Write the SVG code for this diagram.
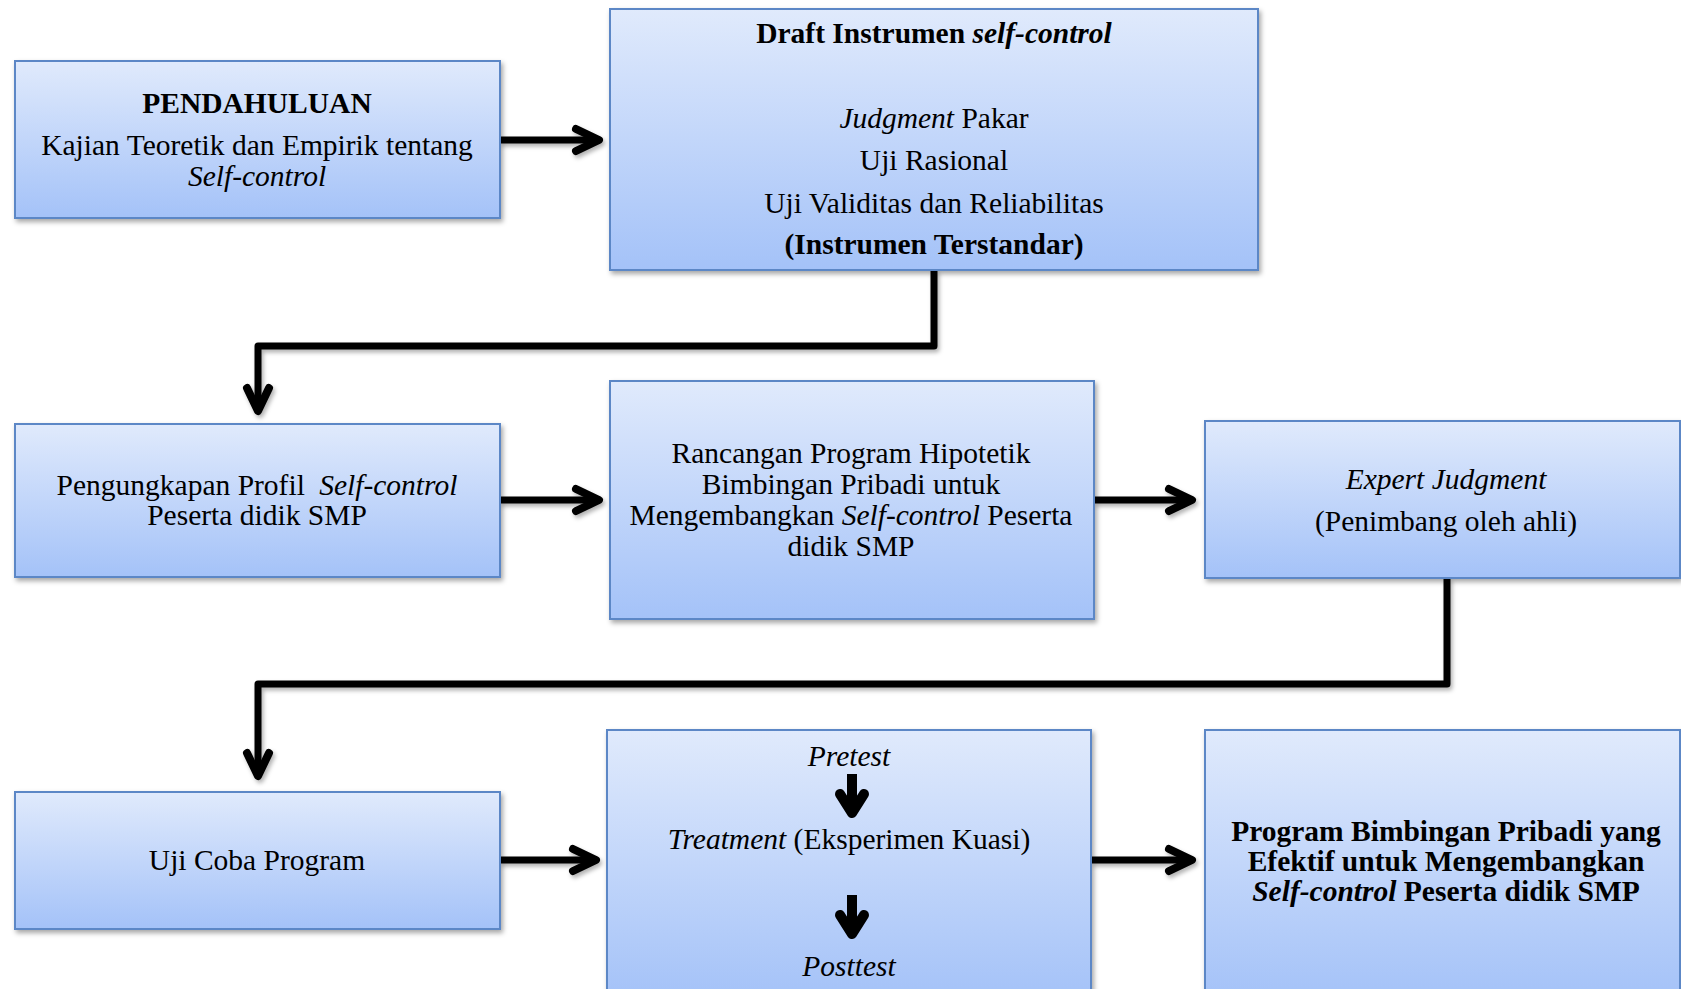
<svg xmlns="http://www.w3.org/2000/svg" width="1681" height="989" viewBox="0 0 1681 989">
<style>
.box{fill:url(#grad);stroke:#5b87c6;stroke-width:2;filter:url(#shadow)}
text{font-family:"Liberation Serif","Times New Roman",serif;font-size:29.5px;fill:#000;text-anchor:middle}
.b{font-weight:bold}
.i{font-style:italic}
.conn{fill:none;stroke:#000;stroke-width:7;stroke-linejoin:round}
</style>
<defs>
<linearGradient id="grad" x1="0" y1="0" x2="0" y2="1">
<stop offset="0" stop-color="#e0eafc"/>
<stop offset="1" stop-color="#a4c2f8"/>
</linearGradient>
<filter id="shadow" x="-10%" y="-10%" width="120%" height="130%">
<feDropShadow dx="2" dy="3" stdDeviation="2.5" flood-color="#000" flood-opacity="0.35"/>
</filter>
<filter id="ashadow" x="-10%" y="-10%" width="120%" height="130%">
<feDropShadow dx="2" dy="3" stdDeviation="2" flood-color="#000" flood-opacity="0.3"/>
</filter>
<marker id="chev" markerUnits="userSpaceOnUse" markerWidth="40" markerHeight="40" refX="0" refY="0" orient="auto" overflow="visible">
<path d="M -19 -11 L 4 0 L -19 11" fill="none" stroke="#000" stroke-width="8" stroke-linecap="round" stroke-linejoin="round"/>
</marker>
<g id="smallArrow">
<line x1="0" y1="0" x2="0" y2="36" stroke="#000" stroke-width="10"/>
<path d="M -12 20 L 0 39 L 12 20" fill="none" stroke="#000" stroke-width="10" stroke-linecap="round" stroke-linejoin="round"/>
</g>
</defs>
<rect width="1681" height="989" fill="#fff"/>

<g id="connectors" filter="url(#ashadow)">
<path class="conn" d="M 500 140 H 595" marker-end="url(#chev)"/>
<path class="conn" d="M 934 270 V 346 H 258 V 407" marker-end="url(#chev)"/>
<path class="conn" d="M 500 500 H 595" marker-end="url(#chev)"/>
<path class="conn" d="M 1094 500 H 1188" marker-end="url(#chev)"/>
<path class="conn" d="M 1447 578 V 684 H 258 V 772" marker-end="url(#chev)"/>
<path class="conn" d="M 500 860 H 592" marker-end="url(#chev)"/>
<path class="conn" d="M 1091 860 H 1188" marker-end="url(#chev)"/>
</g>

<g id="pendahuluan">
<rect class="box" x="15" y="61" width="485" height="157"/>
<text x="257" y="113" class="b">PENDAHULUAN</text>
<text x="257" y="155">Kajian Teoretik dan Empirik tentang</text>
<text x="257" y="186" class="i">Self-control</text>
</g>

<g id="draft">
<rect class="box" x="610" y="9" width="648" height="261"/>
<text x="934" y="43" class="b">Draft Instrumen <tspan class="i">self-control</tspan></text>
<text x="934" y="128"><tspan class="i">Judgment</tspan> Pakar</text>
<text x="934" y="170">Uji Rasional</text>
<text x="934" y="213">Uji Validitas dan Reliabilitas</text>
<text x="934" y="254" class="b">(Instrumen Terstandar)</text>
</g>

<g id="pengungkapan">
<rect class="box" x="15" y="424" width="485" height="153"/>
<text x="257" y="495">Pengungkapan Profil <tspan class="i" dx="7">Self-control</tspan></text>
<text x="257" y="525">Peserta didik SMP</text>
</g>

<g id="rancangan">
<rect class="box" x="610" y="381" width="484" height="238"/>
<text x="851" y="463">Rancangan Program Hipotetik</text>
<text x="851" y="494">Bimbingan Pribadi untuk</text>
<text x="851" y="525">Mengembangkan <tspan class="i">Self-control</tspan> Peserta</text>
<text x="851" y="556">didik SMP</text>
</g>

<g id="expert">
<rect class="box" x="1205" y="421" width="475" height="157"/>
<text x="1446" y="489" class="i">Expert Judgment</text>
<text x="1446" y="531">(Penimbang oleh ahli)</text>
</g>

<g id="ujicoba">
<rect class="box" x="15" y="792" width="485" height="137"/>
<text x="257" y="870">Uji Coba Program</text>
</g>

<g id="treatment">
<rect class="box" x="607" y="730" width="484" height="270"/>
<text x="849" y="766" class="i">Pretest</text>
<use href="#smallArrow" x="852" y="774"/>
<text x="849" y="849"><tspan class="i">Treatment</tspan> (Eksperimen Kuasi)</text>
<use href="#smallArrow" x="852" y="895"/>
<text x="849" y="976" class="i">Posttest</text>
</g>

<g id="program">
<rect class="box" x="1205" y="730" width="475" height="270"/>
<text x="1446" y="841" class="b">Program Bimbingan Pribadi yang</text>
<text x="1446" y="871" class="b">Efektif untuk Mengembangkan</text>
<text x="1446" y="901" class="b"><tspan class="i">Self-control</tspan> Peserta didik SMP</text>
</g>
</svg>
